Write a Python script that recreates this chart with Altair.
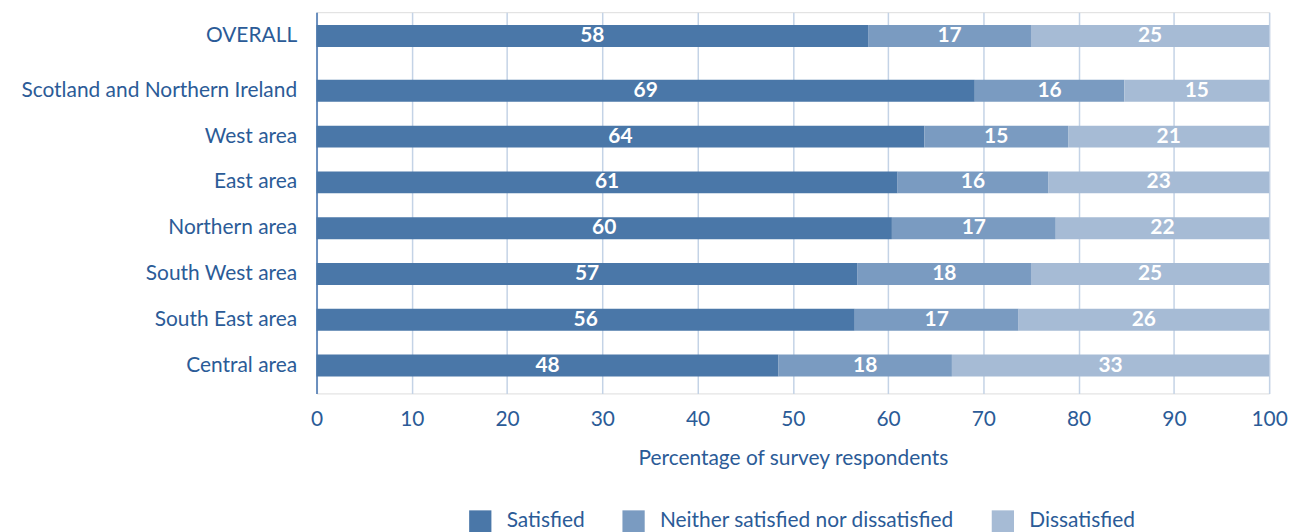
import altair as alt
import pandas as pd

regions = ["OVERALL", "Scotland and Northern Ireland", "West area", "East area",
           "Northern area", "South West area", "South East area", "Central area"]
categories = ["Satisfied", "Neither satisfied nor dissatisfied", "Dissatisfied"]
colors = ["#4a77a8", "#7a9bc1", "#a6bbd5"]

# segment widths and the printed labels
satisfied = [57.9, 69.1, 63.8, 61.0, 60.4, 56.8, 56.5, 48.5]
neither = [17.1, 15.7, 15.1, 15.8, 17.2, 18.2, 17.2, 18.2]
dissatisfied = [25.0, 15.2, 21.1, 23.2, 22.4, 25.0, 26.3, 33.3]
satisfied_lbl = [58, 69, 64, 61, 60, 57, 56, 48]
neither_lbl = [17, 16, 15, 16, 17, 18, 17, 18]
dissatisfied_lbl = [25, 15, 21, 23, 22, 25, 26, 33]

rows = []
for i, r in enumerate(regions):
    for k, (cat, vals, lbls) in enumerate(zip(categories,
                                             [satisfied, neither, dissatisfied],
                                             [satisfied_lbl, neither_lbl, dissatisfied_lbl])):
        rows.append({"region": r, "category": cat, "value": vals[i],
                     "label": str(lbls[i]), "order": k})
df = pd.DataFrame(rows)

FONT = "Lato"
TXT = "#2b5b97"
GRID = "#c4d3e6"
FS = 21
LIFT = -9  # the OVERALL row sits a little apart from the areas

base = (alt.Chart(df)
        .transform_stack(stack="value", groupby=["region"], as_=["x0", "x1"],
                         sort=[alt.SortField("order", order="ascending")])
        .transform_calculate(mid="(datum.x0 + datum.x1) / 2"))

y = alt.Y("region:N", sort=regions, title=None,
          scale=alt.Scale(domain=regions, paddingInner=0, paddingOuter=0.163, align=0.667),
          axis=alt.Axis(labelFontSize=FS, labelColor=TXT, labelFont=FONT,
                        labelPadding=20, ticks=False, domain=True,
                        domainColor="#6a8ebd", domainWidth=2, grid=False,
                        labelLimit=400,
                        labelOffset={"condition": {"test": "datum.value === 'OVERALL'",
                                                   "value": LIFT}, "value": 0}))
xaxis = alt.Axis(values=list(range(0, 101, 10)), grid=True, gridColor=GRID,
                 gridWidth=1.5, domain=False, ticks=False, labelFontSize=FS,
                 labelColor=TXT, labelFont=FONT, labelPadding=15, labelFlush=False,
                 title="Percentage of survey respondents", titleFontSize=FS,
                 titleFont=FONT, titleFontWeight="normal", titleColor=TXT,
                 titlePadding=18)
color = alt.Color("category:N",
                  scale=alt.Scale(domain=categories, range=colors),
                  legend=alt.Legend(title=None, orient="none", direction="horizontal",
                                    legendX=153, legendY=500,
                                    symbolType="square", symbolSize=500,
                                    symbolStrokeWidth=0, symbolOpacity=1,
                                    labelFontSize=FS, labelFont=FONT,
                                    labelColor=TXT, labelOffset=15,
                                    columnPadding=37, labelLimit=500))
xenc = alt.X("x0:Q", scale=alt.Scale(domain=[0, 100], nice=False), axis=xaxis)

is_top = alt.datum.region == "OVERALL"
not_top = alt.datum.region != "OVERALL"

bars_rest = base.transform_filter(not_top).mark_bar(size=22).encode(
    y=y, x=xenc, x2="x1:Q", color=color)
bars_top = base.transform_filter(is_top).mark_bar(size=22, yOffset=LIFT).encode(
    y=alt.Y("region:N", sort=regions), x="x0:Q", x2="x1:Q", color="category:N")

text_kw = dict(color="white", fontWeight="bold", fontSize=FS, font=FONT,
               baseline="middle", align="center")
text_rest = base.transform_filter(not_top).mark_text(**text_kw).encode(
    y=alt.Y("region:N", sort=regions), x="mid:Q", text="label:N")
text_top = base.transform_filter(is_top).mark_text(dy=LIFT, **text_kw).encode(
    y=alt.Y("region:N", sort=regions), x="mid:Q", text="label:N")

chart = (alt.layer(bars_rest, bars_top, text_rest, text_top)
         .properties(width=957, height=383,
                     padding={"left": 20, "top": 11, "right": 10, "bottom": 0})
         .configure_view(stroke=None)
         .configure(background="white"))

chart.save("out.html", embed_options={"renderer": "svg", "actions": False})
